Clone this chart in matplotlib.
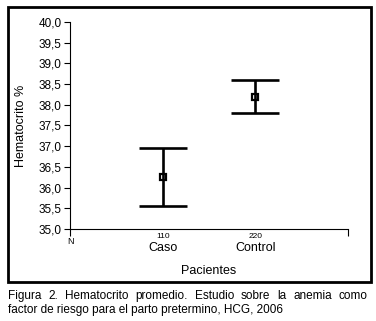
import matplotlib.pyplot as plt
from matplotlib.patches import Rectangle
from matplotlib.transforms import blended_transform_factory

plt.rcParams['font.family'] = ['Liberation Sans', 'DejaVu Sans']

grupos = ['Caso', 'Control']
n_pacientes = ['110', '220']
media = [36.25, 38.2]
limite_inf = [35.55, 37.8]
limite_sup = [36.95, 38.6]
yticks = [35.0, 35.5, 36.0, 36.5, 37.0, 37.5, 38.0, 38.5, 39.0, 39.5, 40.0]
caption1 = 'Figura 2. Hematocrito promedio. Estudio sobre la anemia como'
caption2 = 'factor de riesgo para el parto pretermino, HCG, 2006'

fig = plt.figure(figsize=(3.76, 3.21), dpi=100)
ax = fig.add_axes([70/376, 1 - 229/321, 278/376, 207/321])

x = [1, 2]
err = [[m - lo for m, lo in zip(media, limite_inf)],
       [hi - m for m, hi in zip(media, limite_sup)]]
# markers under the bars so the vertical line runs through them
ax.plot(x, media, 's', ms=5, mfc='white', mec='black', mew=1.6, zorder=2)
ax.errorbar(x, media, yerr=err, fmt='none', ecolor='black',
            elinewidth=1.9, capsize=17, capthick=1.9, zorder=3)

ax.set_xlim(0, 3)
ax.set_ylim(35, 40)
ax.set_yticks(yticks)
ax.set_yticklabels([f'{v:.1f}'.replace('.', ',') for v in yticks], fontsize=8.5)
ax.tick_params(axis='y', length=4, width=0.8, pad=2)

ax.set_xticks([0, 3])
ax.set_xticklabels(['N', ''], fontsize=6.5)
ax.set_xticks(x, minor=True)
ax.set_xticklabels(n_pacientes, minor=True, fontsize=6)
ax.tick_params(axis='x', which='major', length=5, width=0.8, pad=1)
ax.tick_params(axis='x', which='minor', length=0, pad=3)

trans = blended_transform_factory(ax.transData, ax.transAxes)
for xi, g in zip(x, grupos):
    ax.text(xi, -0.063, g, transform=trans, ha='center', va='top', fontsize=9)

ax.spines['top'].set_visible(False)
ax.spines['right'].set_visible(False)
ax.spines['left'].set_linewidth(0.8)
ax.spines['bottom'].set_linewidth(0.8)

ax.set_xlabel('Pacientes', fontsize=9, labelpad=13.5)
ax.set_ylabel('Hematocrito %', fontsize=9, labelpad=8)

fig.patches.append(Rectangle((8/376, 1 - 282/321), 363/376, 275/321,
                             transform=fig.transFigure, fill=False,
                             edgecolor='black', linewidth=2))

# caption, first line justified
fs = 8.5
x0, x1 = 8/376, 368/376
y1 = 1 - 296/321
fig.canvas.draw()
r = fig.canvas.get_renderer()
words = caption1.split(' ')
widths = []
for w in words:
    t = fig.text(0, 0, w, fontsize=fs)
    bb = t.get_window_extent(renderer=r)
    widths.append(bb.width / fig.bbox.width)
    t.remove()
gap = ((x1 - x0) - sum(widths)) / (len(words) - 1)
xp = x0
for w, wd in zip(words, widths):
    fig.text(xp, y1, w, fontsize=fs, va='center', ha='left')
    xp += wd + gap
fig.text(x0, 1 - 310/321, caption2, fontsize=fs, va='center', ha='left')

fig.savefig('out.png', dpi=100)
